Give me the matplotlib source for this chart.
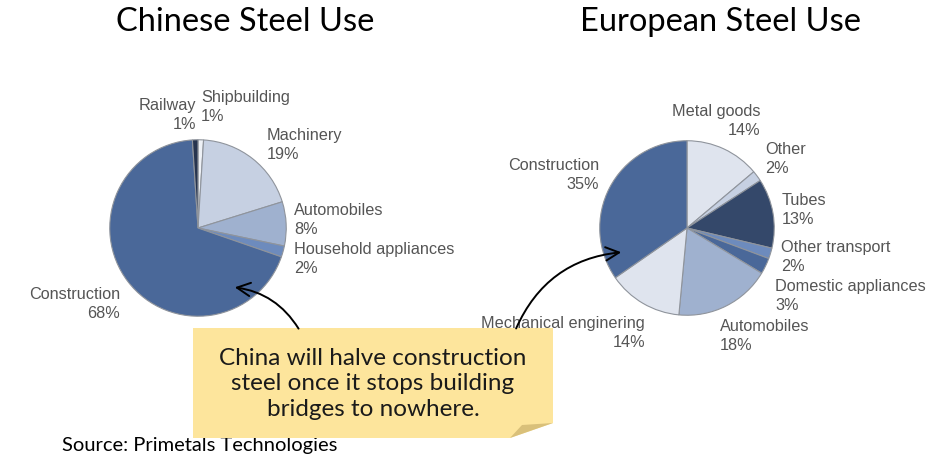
import matplotlib.pyplot as plt
from matplotlib.patches import Polygon

# datos de los dos pasteles
cn_names = ["Shipbuilding", "Machinery", "Automobiles", "Household appliances", "Construction", "Railway"]
cn_values = [1, 19, 8, 2, 68, 1]
cn_colors = ["#eef1f6", "#c6d0e2", "#9fb1cf", "#6d8bbd", "#4a6899", "#26344f"]

eu_names = ["Metal goods", "Other", "Tubes", "Other transport", "Domestic appliances",
            "Automobiles", "Mechanical enginering", "Construction"]
eu_values = [14, 2, 13, 2, 3, 18, 14, 35]
eu_colors = ["#dfe4ee", "#c6d0e2", "#34486a", "#6d8bbd", "#4a6899", "#9fb1cf", "#dfe4ee", "#4a6899"]

# posiciones de las etiquetas (pixeles) y alineacion
cn_label_pos = [(201, 107, "left"), (267, 145, "left"), (294, 220, "left"),
                (294, 259, "left"), (120, 304, "right"), (196, 115, "right")]
eu_label_pos = [(760, 121, "right"), (765, 159, "left"), (782, 210, "left"),
                (781, 257, "left"), (775, 296, "left"), (720, 336, "left"),
                (645, 333, "right"), (599, 175, "right")]

W, H = 940, 462
fig = plt.figure(figsize=(W / 100, H / 100), dpi=100)


def pie_axes(cx, cy, r):
    ax = fig.add_axes([(cx - r) / W, (H - cy - r) / H, 2 * r / W, 2 * r / H])
    return ax


def draw_pie(ax, values, colors):
    ax.pie(values, colors=colors, startangle=90, counterclock=False, radius=1,
           wedgeprops=dict(edgecolor="#8f949c", linewidth=0.8))
    ax.set_xlim(-1.02, 1.02)
    ax.set_ylim(-1.02, 1.02)
    ax.axis("off")


ax_cn = pie_axes(198, 228, 90)
draw_pie(ax_cn, cn_values, cn_colors)
ax_eu = pie_axes(687, 228, 89)
draw_pie(ax_eu, eu_values, eu_colors)

# capa superior en pixeles para textos y flechas
ov = fig.add_axes([0, 0, 1, 1])
ov.set_xlim(0, W)
ov.set_ylim(H, 0)
ov.axis("off")
ov.patch.set_alpha(0)

lab_font = dict(family="Liberation Sans", fontsize=11.7, color="#555555", linespacing=1.3)
for name, val, (x, y, ha) in zip(cn_names, cn_values, cn_label_pos):
    ov.text(x, y, f"{name}\n{val}%", ha=ha, va="center", multialignment=ha, **lab_font)
for name, val, (x, y, ha) in zip(eu_names, eu_values, eu_label_pos):
    ov.text(x, y, f"{name}\n{val}%", ha=ha, va="center", multialignment=ha, **lab_font)

ov.text(245, 22, "Chinese Steel Use", ha="center", va="center", family="Lato", fontsize=23.5, color="black")
ov.text(720, 22, "European Steel Use", ha="center", va="center", family="Lato", fontsize=23.5, color="black")
ov.text(62, 446, "Source: Primetals Technologies", ha="left", va="center", family="Lato", fontsize=14.5, color="black")

# nota amarilla
box = Polygon([(193, 328), (553, 328), (553, 423), (510, 438), (193, 438)], closed=True,
              facecolor="#fde59c", edgecolor="none", zorder=3)
ov.add_patch(box)
fold = Polygon([(553, 423), (510, 438), (522, 425)], closed=True,
               facecolor="#d9c07a", edgecolor="none", zorder=4)
ov.add_patch(fold)
ov.text(373, 384, "China will halve construction\nsteel once it stops building\nbridges to nowhere.",
        ha="center", va="center", family="Lato", fontsize=17.5, color="#1a1a1a", linespacing=1.25, zorder=5)

# flechas
ov.annotate("", xy=(232, 287), xytext=(300, 331),
            arrowprops=dict(arrowstyle="->", color="black", lw=1.4, mutation_scale=24,
                            connectionstyle="arc3,rad=0.25"), zorder=6)
ov.annotate("", xy=(624, 252), xytext=(515, 331),
            arrowprops=dict(arrowstyle="->", color="black", lw=1.4, mutation_scale=24,
                            connectionstyle="arc3,rad=-0.3"), zorder=6)

fig.savefig("out.png", dpi=100)
